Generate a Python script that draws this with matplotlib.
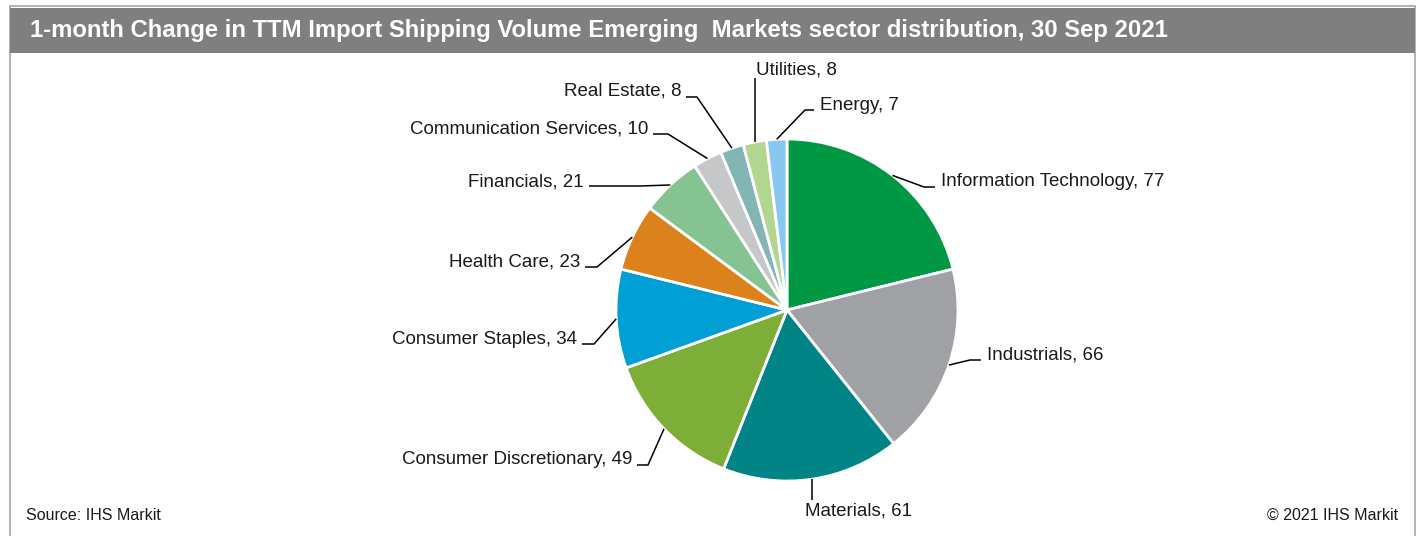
import numpy as np
import matplotlib.pyplot as plt
from matplotlib.patches import Rectangle

plt.rcParams['font.family'] = ['Liberation Sans', 'DejaVu Sans']

sectors = ['Information Technology', 'Industrials', 'Materials', 'Consumer Discretionary',
           'Consumer Staples', 'Health Care', 'Financials', 'Communication Services',
           'Real Estate', 'Utilities', 'Energy']
counts = [77, 66, 61, 49, 34, 23, 21, 10, 8, 8, 7]
colors = ['#009845', '#A0A1A4', '#008485', '#7DAF38', '#00A0D6', '#DB821C',
          '#85C393', '#C6C7C9', '#84B5B5', '#B2D690', '#88C8F0']

title = '1-month Change in TTM Import Shipping Volume Emerging  Markets sector distribution, 30 Sep 2021'

W, H = 1418, 536
# label layout in pixel coords: text x, text y, align, elbow x, leader y
layout = [
    (941, 182, 'left', 924, 187),
    (987, 355, 'left', 970, 360),
    (805, 511, 'left', None, 500),
    (632, 460, 'right', 648, 465),
    (577, 339, 'right', 594, 344),
    (580, 262, 'right', 597, 267),
    (584, 182, 'right', 640, 186),
    (648, 129, 'right', 668, 134),
    (681, 91, 'right', 697, 97),
    (756, 70, 'left', None, 78),
    (820, 106, 'left', 805, 110),
]

cx, cy, R = 787, 310, 171

fig = plt.figure(figsize=(W / 100, H / 100), dpi=100)
ax = fig.add_axes([0, 0, 1, 1])

explode = [0.025 if s == 'Materials' else 0 for s in sectors]
wedges, _ = ax.pie(counts, colors=colors, startangle=90, counterclock=False,
                   center=(cx, H - cy), radius=R, explode=explode,
                   wedgeprops=dict(edgecolor='white', linewidth=2))
ax.set_xlim(0, W)
ax.set_ylim(0, H)
ax.set_aspect('equal')
ax.axis('off')

def py(y):
    return H - y

for w, name, val, (tx, ty, ha, ex, ly) in zip(wedges, sectors, counts, layout):
    mid = np.deg2rad((w.theta1 + w.theta2) / 2)
    px = w.center[0] + R * np.cos(mid)
    pyy = w.center[1] + R * np.sin(mid)
    if ex is None:
        xs = [px, px]
        ys = [pyy, py(ly)]
    else:
        end = tx + 5 if ha == 'right' else tx - 6
        xs = [px, ex, end]
        ys = [pyy, py(ly), py(ly)]
    ax.plot(xs, ys, color='black', lw=1.1, solid_capstyle='butt')
    ax.text(tx, py(ty), f'{name}, {val}', ha=ha, va='center', fontsize=13.5, color='#1a1a1a')

# frame and title bar
ax.add_patch(Rectangle((10, py(540)), 1405, 534, fill=False, edgecolor='#a6a6a6', lw=1.2))
ax.add_patch(Rectangle((10, py(53)), 1405, 45, facecolor='#7f7f7f', edgecolor='none'))
ax.text(30, py(31), title, color='white', fontsize=17.2, fontweight='bold', ha='left', va='center')

ax.text(26, py(515), 'Source: IHS Markit', fontsize=11.5, ha='left', va='center', color='#1a1a1a')
ax.text(1398, py(515), '© 2021 IHS Markit', fontsize=11.5, ha='right', va='center', color='#1a1a1a')

fig.savefig('out.png', dpi=100)
